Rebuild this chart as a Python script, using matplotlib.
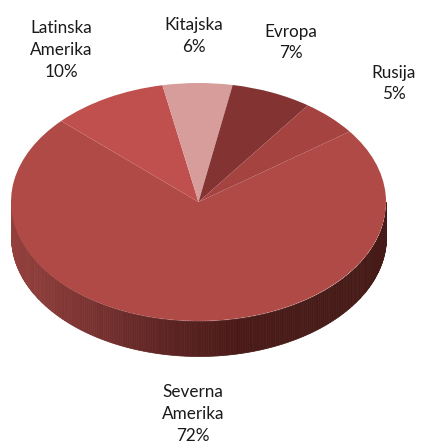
import numpy as np
import matplotlib
matplotlib.use("Agg")
import matplotlib.pyplot as plt
from matplotlib.colors import LinearSegmentedColormap

W, H = 424, 448

regije = ["Severna\nAmerika", "Latinska\nAmerika", "Kitajska", "Evropa", "Rusija"]
vrednosti = [72, 10, 6, 7, 5]
barve = ["#B04A47", "#C0504D", "#D69D9B", "#843333", "#A44340"]

# polozaj napisov v pikslih (sredina besedila)
napisi_x = [193, 61, 194, 291, 394]
napisi_y = [414, 50, 36, 42.5, 83.5]

# elipsa zgornje ploskve v pikslih
cx, cy, rx, ry = 198.5, 202, 187.5, 119
globina = 35 / ry

fig = plt.figure(figsize=(W / 100, H / 100), dpi=100)
ax = fig.add_axes([(cx - rx) / W, 1 - (cy + ry) / H, 2 * rx / W, 2 * ry / H])

ax.pie(vrednosti, colors=barve, startangle=36.3, counterclock=False, radius=1,
       wedgeprops=dict(linewidth=0), frame=False, normalize=True)
ax.set_aspect("auto")
ax.set_xlim(-1, 1)
ax.set_ylim(-1, 1)
ax.axis("off")
for p in ax.patches:
    p.set_clip_on(False)
    p.set_zorder(5)

# stranska stena, senca od leve proti desni
senca = LinearSegmentedColormap.from_list(
    "senca", ["#94403D", "#7A3331", "#5E2523", "#4A1A18", "#471B18", "#451A17"])
kot = np.linspace(np.pi, 2 * np.pi, 241)
for i in range(len(kot) - 1):
    t = np.linspace(kot[i], kot[i + 1], 3)
    xs = np.cos(t)
    ys = np.sin(t)
    c = senca((np.cos(kot[i]) + 1) / 2)
    ax.fill_between(xs, ys - globina, ys, color=c, linewidth=0.5, clip_on=False, zorder=2)

for ime, v, x, y in zip(regije, vrednosti, napisi_x, napisi_y):
    fig.text(x / W, 1 - y / H, f"{ime}\n{v}%", ha="center", va="center",
             family="Lato", fontsize=12.3, color="#1a1a1a", linespacing=1.45)

fig.savefig("out.png", dpi=100)
